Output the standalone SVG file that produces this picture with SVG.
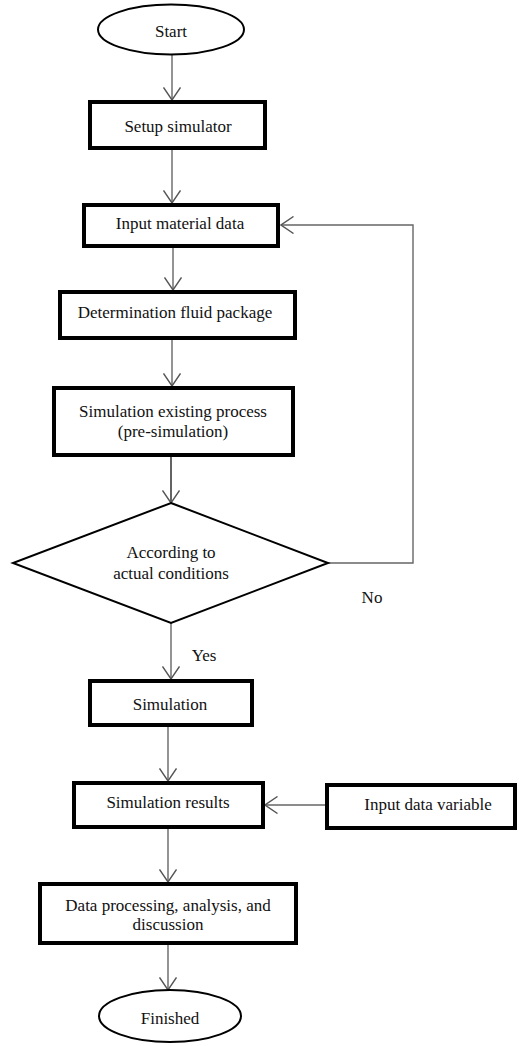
<svg xmlns="http://www.w3.org/2000/svg" width="519" height="1046" viewBox="0 0 519 1046" font-family="'Liberation Serif', 'DejaVu Serif', 'Times New Roman', serif">
<defs>
<marker id="arr" viewBox="0 0 14 18" refX="13" refY="9" markerWidth="14" markerHeight="18" markerUnits="userSpaceOnUse" orient="auto">
<path d="M0.5,0.5 L13,9 L0.5,17.5" fill="none" stroke="#555" stroke-width="1.4"/>
</marker>
</defs>
<style>
.box{fill:#fff;stroke:#000;stroke-width:4}
.thin{fill:#fff;stroke:#000;stroke-width:2}
text{font-family:'Liberation Serif','DejaVu Serif','Times New Roman',serif;font-size:17px;fill:#111;text-anchor:middle}
.c{fill:none;stroke:#666;stroke-width:1.4}
</style>
<rect width="519" height="1046" fill="#fff"/>
<g id="connectors">
<line class="c" x1="172" y1="55" x2="172" y2="100" marker-end="url(#arr)"/>
<line class="c" x1="172" y1="150" x2="172" y2="203" marker-end="url(#arr)"/>
<line class="c" x1="173" y1="248" x2="173" y2="290" marker-end="url(#arr)"/>
<line class="c" x1="172" y1="340" x2="172" y2="386" marker-end="url(#arr)"/>
<line class="c" x1="171" y1="457" x2="171" y2="503" marker-end="url(#arr)" style="stroke:#222"/>
<polyline class="c" points="328,563 413,563 413,225 281,225" marker-end="url(#arr)"/>
<line class="c" x1="171" y1="623" x2="171" y2="679" marker-end="url(#arr)"/>
<line class="c" x1="168" y1="727" x2="168" y2="781" marker-end="url(#arr)"/>
<line class="c" x1="325" y1="805" x2="265" y2="805" marker-end="url(#arr)"/>
<line class="c" x1="168" y1="829" x2="168" y2="882" marker-end="url(#arr)"/>
<line class="c" x1="168" y1="945" x2="168" y2="990" marker-end="url(#arr)"/>
<text x="372" y="603">No</text>
<text x="204" y="661">Yes</text>
</g>
<g id="start">
<ellipse class="thin" cx="171" cy="29.5" rx="73" ry="25"/>
<text x="171" y="37">Start</text>
</g>
<g id="setup">
<rect class="box" x="90" y="102" width="175" height="46"/>
<text x="178" y="132">Setup simulator</text>
</g>
<g id="input-material">
<rect class="box" x="84" y="205" width="194" height="41"/>
<text x="180" y="229">Input material data</text>
</g>
<g id="fluid-package">
<rect class="box" x="60" y="292" width="235" height="46"/>
<text x="175" y="318">Determination fluid package</text>
</g>
<g id="pre-simulation">
<rect class="box" x="54" y="388" width="239" height="67"/>
<text x="173" y="417">Simulation existing process</text>
<text x="173" y="437">(pre-simulation)</text>
</g>
<g id="decision">
<polygon class="thin" points="171,503 328,563 171,623 13,563"/>
<text x="171" y="558">According to</text>
<text x="171" y="579">actual conditions</text>
</g>
<g id="simulation">
<rect class="box" x="90" y="681" width="162" height="44"/>
<text x="170" y="710">Simulation</text>
</g>
<g id="results">
<rect class="box" x="74" y="783" width="189" height="44"/>
<text x="168" y="808">Simulation results</text>
</g>
<g id="input-variable">
<rect class="box" x="327" y="785" width="188" height="43"/>
<text x="428" y="810">Input data variable</text>
</g>
<g id="processing">
<rect class="box" x="40" y="884" width="256" height="59"/>
<text x="168" y="911">Data processing, analysis, and</text>
<text x="168" y="930">discussion</text>
</g>
<g id="finished">
<ellipse class="thin" cx="170" cy="1016" rx="71" ry="26"/>
<text x="170" y="1024">Finished</text>
</g>
</svg>
